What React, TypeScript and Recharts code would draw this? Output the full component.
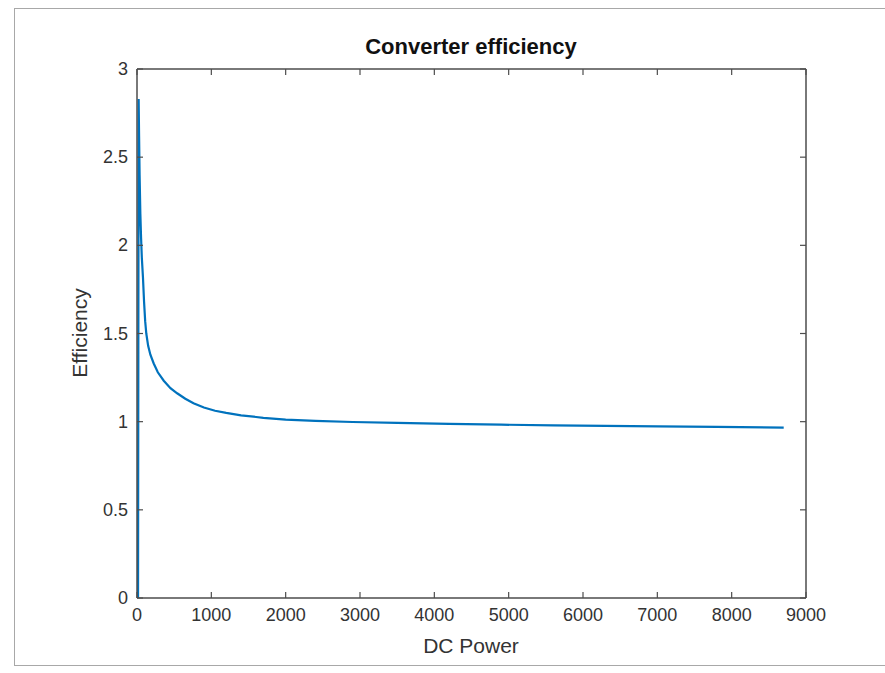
import React from 'react';
import { LineChart, Line, XAxis, YAxis } from 'recharts';

const dcPower = [14, 18, 22, 28, 35, 45, 55, 65, 80, 95, 110, 125, 150, 180, 225, 280, 360, 450, 540, 650, 760, 900, 1050, 1200, 1400, 1700, 2000, 2400, 2900, 3500, 4200, 4900, 5600, 6300, 7000, 7800, 8700];
const efficiency = [0, 1.4, 2.83, 2.62, 2.4, 2.18, 2.04, 1.93, 1.82, 1.68, 1.57, 1.5, 1.43, 1.38, 1.33, 1.28, 1.232, 1.19, 1.161, 1.13, 1.104, 1.08, 1.062, 1.05, 1.036, 1.022, 1.012, 1.004, 0.998, 0.993, 0.988, 0.983, 0.979, 0.976, 0.973, 0.97, 0.966];

const xTicks = [0, 1000, 2000, 3000, 4000, 5000, 6000, 7000, 8000, 9000];
const xTickLabels = ['0', '1000', '2000', '3000', '4000', '5000', '6000', '7000', '8000', '9000'];
const yTicks = [0, 0.5, 1, 1.5, 2, 2.5, 3];
const yTickLabels = ['0', '0.5', '1', '1.5', '2', '2.5', '3'];

const titleText = 'Converter efficiency';
const xLabelText = 'DC Power';
const yLabelText = 'Efficiency';

const data = dcPower.map((p, i) => ({ p, e: efficiency[i] }));

const AXIS = '#4d4d4d';
const TEXT = '#333333';
const FONT = '"Liberation Sans", Arial, Helvetica, sans-serif';
const TICK_LEN = 6;

const BottomTick = (props: any) => {
  const { x, y, payload } = props;
  return (
    <g>
      <line x1={x} x2={x} y1={y} y2={y - TICK_LEN} stroke={AXIS} strokeWidth={1.2} />
      <text x={x} y={y + 23} textAnchor="middle" fontSize={18} fill={TEXT} fontFamily={FONT}>
        {xTickLabels[xTicks.indexOf(payload.value)] ?? String(payload.value)}
      </text>
    </g>
  );
};

const TopTick = (props: any) => {
  const { x, y } = props;
  return <line x1={x} x2={x} y1={y} y2={y + TICK_LEN} stroke={AXIS} strokeWidth={1.2} />;
};

const LeftTick = (props: any) => {
  const { x, y, payload } = props;
  return (
    <g>
      <line x1={x} x2={x + TICK_LEN} y1={y} y2={y} stroke={AXIS} strokeWidth={1.2} />
      <text x={x - 9} y={y + 6} textAnchor="end" fontSize={18} fill={TEXT} fontFamily={FONT}>
        {yTickLabels[yTicks.indexOf(payload.value)] ?? String(payload.value)}
      </text>
    </g>
  );
};

const RightTick = (props: any) => {
  const { x, y } = props;
  return <line x1={x} x2={x - TICK_LEN} y1={y} y2={y} stroke={AXIS} strokeWidth={1.2} />;
};

export default function App() {
  return (
    <div style={{ position: 'absolute', left: 0, top: 0, width: 885, height: 673, overflow: 'hidden', background: '#ffffff', fontFamily: FONT }}>
      <div style={{ position: 'absolute', left: 14, top: 8, width: 1000, height: 658, border: '1px solid #a8a8a8', boxSizing: 'border-box' }} />
      <div style={{ position: 'absolute', left: 0, top: 0 }}>
        <LineChart width={885} height={673} data={data} margin={{ top: 59, right: 69, bottom: 45, left: 97 }}>
          <XAxis
            xAxisId="bottom"
            dataKey="p"
            type="number"
            orientation="bottom"
            domain={[0, 9000]}
            ticks={xTicks}
            allowDataOverflow
            height={30}
            tickSize={0}
            tickMargin={0}
            tickLine={false}
            axisLine={{ stroke: AXIS, strokeWidth: 1.5 }}
            tick={<BottomTick />}
            interval={0}
          />
          <XAxis
            xAxisId="top"
            dataKey="p"
            orientation="top"
            type="number"
            domain={[0, 9000]}
            ticks={xTicks}
            allowDataOverflow
            height={10}
            tickSize={0}
            tickMargin={0}
            tickLine={false}
            axisLine={{ stroke: AXIS, strokeWidth: 1.5 }}
            tick={<TopTick />}
            interval={0}
          />
          <YAxis
            yAxisId="left"
            orientation="left"
            type="number"
            domain={[0, 3]}
            ticks={yTicks}
            allowDataOverflow
            width={40}
            tickSize={0}
            tickMargin={0}
            tickLine={false}
            axisLine={{ stroke: AXIS, strokeWidth: 1.5 }}
            tick={<LeftTick />}
            interval={0}
          />
          <YAxis
            yAxisId="right"
            orientation="right"
            type="number"
            domain={[0, 3]}
            ticks={yTicks}
            allowDataOverflow
            width={10}
            tickSize={0}
            tickMargin={0}
            tickLine={false}
            axisLine={{ stroke: AXIS, strokeWidth: 1.5 }}
            tick={<RightTick />}
            interval={0}
          />
          <Line
            xAxisId="bottom"
            yAxisId="left"
            type="linear"
            dataKey="e"
            stroke="#0072BD"
            strokeWidth={2.2}
            dot={false}
            activeDot={false}
            isAnimationActive={false}
          />
          <Line
            xAxisId="top"
            yAxisId="right"
            type="linear"
            dataKey="e"
            stroke="none"
            strokeWidth={0}
            dot={false}
            activeDot={false}
            legendType="none"
            isAnimationActive={false}
          />
        </LineChart>
      </div>
      <div style={{ position: 'absolute', left: 221, width: 500, top: 33, textAlign: 'center', fontSize: 22, fontWeight: 'bold', color: '#111', lineHeight: '28px' }}>
        {titleText}
      </div>
      <div style={{ position: 'absolute', left: 221, width: 500, top: 632, textAlign: 'center', fontSize: 21, color: TEXT, lineHeight: '28px' }}>
        {xLabelText}
      </div>
      <div style={{ position: 'absolute', left: 80, top: 333, transform: 'translate(-50%, -50%) rotate(-90deg)', whiteSpace: 'nowrap', fontSize: 21, color: TEXT, lineHeight: '28px' }}>
        {yLabelText}
      </div>
    </div>
  );
}
